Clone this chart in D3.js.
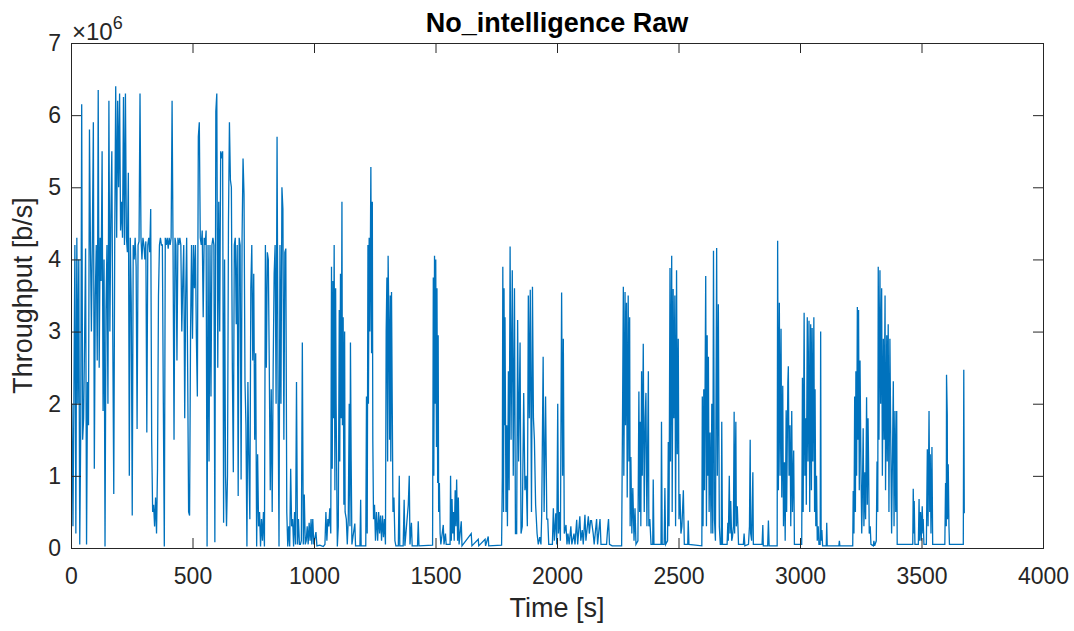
<!DOCTYPE html>
<html>
<head>
<meta charset="utf-8">
<script src="https://cdn.jsdelivr.net/npm/d3@7"></script>
<style>
  body { margin: 0; background: #fff; }
  svg { display: block; }
</style>
</head>
<body>
<div id="chart"></div>
<script>
// ---------------------------------------------------------------------------
// Throughput trace, MATLAB look: boxed axes, inward ticks, x10^6 exponent
// ---------------------------------------------------------------------------

const chartTitle = 'No_intelligence Raw';
const xLabel = 'Time [s]';
const yLabel = 'Throughput [b/s]';
const xTicks = [0, 500, 1000, 1500, 2000, 2500, 3000, 3500, 4000];
const yTicks = [0, 1, 2, 3, 4, 5, 6, 7]; // x 10^6 b/s

// first 988 s, one reading every 4 s, values in 10^6 b/s
const denseStep = 4;
const denseMbps = [
  0.1,2.0,0.3,2.1,4.2,0.2,4.3,2.0,4.0,0.05,
  1.6,6.15,1.5,1.8,2.9,4.15,0.05,2.3,1.7,5.8,
  4.2,3.0,4.3,5.9,1.1,3.5,4.2,2.6,6.35,2.5,
  4.3,3.7,5.5,1.9,4.0,0.02,3.3,4.2,2.0,6.2,
  3.0,4.6,5.5,2.9,0.75,4.3,6.4,4.3,6.2,5.0,
  6.3,4.4,4.8,4.3,6.25,4.2,6.3,4.3,4.1,5.2,
  1.0,4.3,3.4,0.45,4.2,4.0,4.3,3.9,1.65,4.2,
  4.25,6.3,4.3,4.0,4.3,4.2,4.0,4.25,1.6,4.2,
  4.3,4.1,4.7,1.5,0.5,0.6,0.3,0.7,0.2,1.1,
  3.5,4.2,4.3,4.2,4.2,2.0,0.02,4.3,4.2,4.3,
  4.15,4.3,4.2,4.3,6.2,4.1,1.5,4.3,4.2,2.6,
  4.3,4.2,4.3,4.2,3.0,3.7,4.2,1.8,3.5,4.3,
  2.5,0.5,0.45,3.0,4.2,2.9,4.2,3.6,4.2,2.9,
  2.1,5.7,5.9,4.3,4.2,4.4,3.2,4.3,4.2,4.4,
  0.02,4.2,1.2,4.2,2.1,4.2,4.3,4.2,0.08,6.05,
  6.3,2.5,4.8,3.0,5.5,5.4,5.5,0.35,4.0,1.0,
  0.3,1.0,4.5,5.9,5.1,5.0,2.5,1.05,4.2,4.3,
  3.1,4.2,0.72,4.3,4.2,0.95,4.3,5.4,4.9,2.3,
  1.7,0.02,2.3,1.2,0.4,3.6,4.2,2.6,3.8,1.5,
  2.7,0.02,1.3,0.3,0.5,0.02,0.4,0.1,0.5,0.02,
  4.2,2.5,4.1,4.0,2.5,0.8,2.2,0.5,2.5,3.8,
  4.2,2.0,5.7,2.2,0.02,4.2,2.0,5.0,4.7,1.5,
  4.1,4.15,0.5,0.02,0.3,0.02,1.1,0.3,0.4,0.02,
  0.5,0.05,2.3,0.05,0.4,0.05,0.05,0.1,2.85,0.05,
  0.74,0.05,0.1,0.3,0.05,0.35,0.1,0.4
];

// later bursts, [time s, 10^6 b/s]
const burst1100 = [
  [991,0.05],[995,0.4],[999,0.05],[1008,0.22],[1012,0.03],[1024,0.04],[1038,0.02],[1045,0.05],
  [1049,0.5],[1053,0.1],[1057,0.4],[1061,0.3],[1065,0.55],[1069,0.2],[1072,3.9],[1075,1.1],
  [1078,3.7],[1080,1.8],[1083,4.2],[1086,0.8],[1089,3.6],[1091,2.0],[1096,0.02],[1100,0.3],
  [1104,3.3],[1106,1.2],[1109,3.8],[1112,1.8],[1115,4.8],[1117,1.7],[1120,3.2],[1123,0.6],
  [1126,3.0],[1128,0.5],[1133,0.4],[1137,0.05],[1141,0.4],[1145,2.0],[1148,0.3],[1150,2.85],
  [1153,1.2],[1156,0.05],[1168,0.34],[1171,0.03],[1189,0.03],[1192,0.67],[1194,0.03],[1213,0.03]
];
const burst1250 = [
  [1216,2.1],[1219,0.2],[1222,4.2],[1224,2.0],[1227,4.3],[1230,3.0],[1234,5.28],[1237,2.7],
  [1240,4.8],[1242,1.5],[1245,0.4],[1249,0.6],[1253,0.1],[1257,0.5],[1262,0.1],[1266,0.5],
  [1270,0.2],[1274,0.45],[1278,0.1],[1282,0.45],[1286,0.15],[1290,0.4],[1294,0.05],[1297,3.0],
  [1300,3.75],[1303,1.2],[1305,4.05],[1308,3.2],[1311,1.5],[1314,3.5],[1316,1.2],[1319,3.55],
  [1322,2.0],[1325,0.5],[1329,0.7],[1333,0.1],[1337,0.03],[1347,0.03],[1351,1.0],[1353,0.03],
  [1367,0.03],[1371,0.67],[1374,0.03],[1388,0.6],[1392,1.0],[1395,0.05],[1401,0.35],[1404,0.03],
  [1426,0.03],[1429,0.37],[1432,0.03]
];
const burst1500 = [
  [1488,0.04],[1491,3.75],[1493,1.0],[1496,4.05],[1499,2.0],[1501,4.0],[1504,1.4],[1506,3.6],
  [1509,0.9],[1511,2.95],[1513,0.5],[1516,0.9],[1519,0.2],[1522,0.05],[1532,0.32],[1535,0.05],
  [1541,0.2],[1544,0.05],[1560,0.05],[1562,1.0],[1565,0.1],[1568,0.68],[1571,0.2],[1574,0.5],
  [1577,0.1],[1581,0.8],[1584,0.3],[1587,0.95],[1591,0.1],[1594,0.7],[1597,0.05],[1606,0.37],
  [1609,0.03],[1647,0.2],[1650,0.03],[1676,0.12],[1678,0.03],[1704,0.12],[1706,0.03],[1717,0.16],
  [1719,0.03],[1772,0.04]
];
const burst1850 = [
  [1775,1.0],[1777,3.9],[1780,0.5],[1782,3.6],[1784,1.7],[1786,3.2],[1790,0.5],[1793,1.7],
  [1796,0.3],[1800,2.45],[1803,0.8],[1807,4.18],[1811,1.5],[1816,3.85],[1820,1.0],[1825,3.6],
  [1829,0.2],[1834,0.2],[1838,3.16],[1842,1.2],[1848,2.85],[1852,0.2],[1857,0.3],[1863,2.15],
  [1868,0.8],[1873,1.0],[1878,0.3],[1882,3.5],[1886,1.8],[1890,3.58],[1895,0.5],[1899,3.62],
  [1903,1.8],[1907,1.5],[1912,0.6],[1918,0.2],[1923,0.05],[1929,0.15],[1934,0.05],[1937,0.46],
  [1943,2.65],[1947,0.5],[1953,2.1],[1958,0.4],[1962,0.4],[1966,0.05],[1981,0.05],[1985,0.55],
  [1989,0.1],[1995,0.48],[1999,0.05],[2003,2.0],[2006,0.2],[2010,0.5],[2014,0.1],[2019,3.54],
  [2023,1.0],[2026,2.9],[2030,0.2]
];
const quiet2100 = [
  [2037,0.32],[2041,0.05],[2045,0.2],[2050,0.05],[2057,0.3],[2061,0.05],[2070,0.2],[2074,0.05],
  [2081,0.39],[2085,0.05],[2094,0.44],[2098,0.1],[2104,0.25],[2108,0.05],[2115,0.46],[2119,0.1],
  [2129,0.44],[2133,0.2],[2138,0.38],[2142,0.38],[2149,0.2],[2153,0.05],[2163,0.4],[2167,0.05],
  [2177,0.4],[2181,0.05],[2204,0.05],[2208,0.25],[2212,0.4],[2216,0.05],[2227,0.03],[2266,0.03]
];
const burst2300 = [
  [2270,2.0],[2273,3.62],[2275,1.0],[2280,3.55],[2282,1.7],[2286,3.4],[2289,0.7],[2293,3.5],
  [2296,1.2],[2299,3.2],[2301,0.3],[2304,1.26],[2308,0.2],[2312,0.83],[2317,0.1],[2321,0.55],
  [2325,0.05],[2333,0.1],[2337,2.17],[2340,0.5],[2343,1.75],[2345,0.3],[2348,2.45],[2351,1.0],
  [2355,2.83],[2359,0.5],[2363,1.8],[2366,2.15],[2370,0.3],[2376,2.45],[2378,0.3],[2382,0.4],
  [2387,0.05],[2394,0.05],[2396,0.95],[2399,0.05],[2428,0.05],[2430,1.75],[2433,0.05],[2441,0.05],
  [2444,0.83],[2447,0.05],[2455,0.1],[2458,1.47],[2461,0.3],[2465,3.88],[2467,1.2],[2472,4.05],
  [2474,0.5],[2478,3.59],[2481,1.8],[2485,3.5],[2488,0.3],[2492,3.85],[2495,1.3],[2499,2.9],
  [2502,0.4],[2506,0.75],[2510,0.2],[2514,0.3],[2520,0.8],[2524,0.05],[2538,0.05],[2540,0.38],
  [2543,0.05]
];
const burst2650 = [
  [2596,0.03],[2598,2.1],[2601,0.3],[2604,2.2],[2607,0.8],[2609,2.0],[2612,3.77],[2615,0.3],
  [2618,2.95],[2620,1.0],[2623,2.65],[2626,0.5],[2630,1.6],[2634,0.2],[2637,2.0],[2641,0.2],
  [2644,4.12],[2648,0.4],[2652,0.1],[2657,4.16],[2660,1.0],[2664,3.38],[2668,0.3],[2672,0.05],
  [2676,0.05],[2678,1.75],[2681,0.05],[2700,0.05],[2703,0.35],[2705,0.1],[2709,1.0],[2712,0.2],
  [2715,0.65],[2719,0.1],[2722,0.15],[2726,0.3],[2729,1.89],[2731,0.2],[2736,1.75],[2738,0.3],
  [2742,0.58],[2747,0.05],[2767,0.05],[2770,0.2],[2773,0.03],[2788,0.05],[2792,0.3],[2795,1.5],
  [2797,0.2],[2801,0.1],[2806,1.05],[2808,0.05],[2844,0.05],[2847,0.32],[2849,0.03],[2867,0.03],
  [2870,0.38],[2873,0.03]
];
const burst2950 = [
  [2906,0.03],[2908,4.26],[2911,0.8],[2915,3.4],[2918,1.0],[2922,3.04],[2925,0.7],[2929,2.25],
  [2932,0.3],[2936,1.19],[2939,0.1],[2943,1.91],[2945,0.5],[2950,2.3],[2952,2.52],[2955,1.0],
  [2959,1.7],[2962,0.3],[2966,1.9],[2969,0.5],[2974,1.35],[2977,0.05],[3007,0.05],[3010,2.36],
  [3013,0.5],[3017,3.26],[3020,1.0],[3024,1.8],[3026,0.6],[3030,3.2],[3033,1.2],[3037,3.15],
  [3040,0.5],[3044,3.1],[3047,0.8],[3050,3.05],[3053,1.2],[3057,3.2],[3060,0.5],[3062,2.2],
  [3065,0.3],[3068,1.0],[3071,0.1],[3075,0.3],[3078,0.05],[3083,0.05],[3085,3.0],[3087,0.1],
  [3090,0.25],[3093,0.03],[3108,0.03],[3110,0.35],[3112,0.03]
];
const burst3300 = [
  [3160,0.03],[3162,0.1],[3164,0.03],[3217,0.03],[3219,0.79],[3222,0.2],[3225,2.1],[3228,0.5],
  [3230,2.45],[3233,1.0],[3236,3.34],[3239,1.5],[3241,3.3],[3244,0.8],[3247,2.6],[3251,1.06],
  [3254,0.2],[3256,0.55],[3260,1.66],[3263,0.3],[3267,1.05],[3270,0.4],[3274,2.09],[3277,0.6],
  [3280,1.8],[3282,1.25],[3285,0.2],[3289,0.3],[3292,0.05],[3302,0.03],[3304,0.1],[3307,0.03],
  [3314,0.1],[3317,1.2],[3320,0.5],[3322,3.9],[3325,1.5],[3329,3.85],[3332,2.0],[3336,3.6],
  [3339,1.0],[3343,2.9],[3346,1.5],[3350,3.5],[3352,0.8],[3357,2.95],[3359,1.2],[3363,3.1],
  [3366,0.5],[3370,2.9],[3374,1.3],[3377,0.2],[3384,2.31],[3387,0.3],[3391,1.9],[3394,0.5],
  [3398,1.9],[3400,0.05],[3464,0.05],[3466,0.82],[3469,0.2],[3470,0.65],[3473,0.05],[3487,0.05],
  [3490,0.68],[3492,0.1],[3496,0.5],[3499,0.1],[3503,0.58],[3506,0.2],[3507,0.4],[3510,0.05],
  [3520,0.05],[3524,1.37],[3527,0.3],[3531,1.9],[3534,0.5],[3536,1.3],[3539,0.2],[3543,1.4],
  [3546,0.05]
];
const burst3600 = [
  [3596,0.05],[3599,0.9],[3602,0.3],[3603,2.4],[3606,1.85],[3607,0.4],[3610,1.16],[3613,0.3],
  [3615,0.05],[3672,0.05],[3674,2.47],[3676,0.48]
];

const width = 1074;
const height = 631;
const margin = { top: 43, right: 31, bottom: 83, left: 71 };
const innerW = width - margin.left - margin.right;
const innerH = height - margin.top - margin.bottom;

const samples = denseMbps
  .map((v, i) => [i * denseStep, v])
  .concat(burst1100, burst1250, burst1500, burst1850, quiet2100,
          burst2300, burst2650, burst2950, burst3300, burst3600)
  .map(([t, v]) => ({ t, bps: v * 1e6 }));

const x = d3.scaleLinear().domain([0, 4000]).range([0, innerW]);
const y = d3.scaleLinear().domain([0, 7e6]).range([innerH, 0]);

const svg = d3.select('#chart')
  .append('svg')
  .attr('width', width)
  .attr('height', height)
  .style('font-family', '"Liberation Sans", Arial, Helvetica, sans-serif');

const g = svg.append('g').attr('transform', `translate(${margin.left},${margin.top})`);

g.append('clipPath').attr('id', 'plot-clip')
  .append('rect').attr('width', innerW).attr('height', innerH);

const line = d3.line().x((d) => x(d.t)).y((d) => y(d.bps));

g.append('path')
  .datum(samples)
  .attr('clip-path', 'url(#plot-clip)')
  .attr('fill', 'none')
  .attr('stroke', '#0072BD')
  .attr('stroke-width', 1.3)
  .attr('stroke-linejoin', 'miter')
  .attr('d', line);

// axes, ticks point inward on all four sides
const axisColor = '#262626';
const tickLen = 10;

const styleAxis = (sel) => {
  sel.select('.domain').remove();
  sel.selectAll('.tick line').attr('stroke', axisColor).attr('stroke-width', 1);
  sel.selectAll('.tick text')
    .attr('fill', axisColor)
    .attr('font-family', null)
    .style('font-size', '23px');
};

g.append('g')
  .attr('transform', `translate(0,${innerH})`)
  .call(d3.axisBottom(x).tickValues(xTicks).tickSize(-tickLen).tickPadding(20).tickFormat(d3.format('d')))
  .call(styleAxis);

g.append('g')
  .call(d3.axisTop(x).tickValues(xTicks).tickSize(-tickLen).tickFormat(''))
  .call(styleAxis);

g.append('g')
  .call(d3.axisLeft(y).tickValues(yTicks.map((v) => v * 1e6)).tickSize(-tickLen).tickPadding(10)
    .tickFormat((d) => d / 1e6))
  .call(styleAxis);

g.append('g')
  .attr('transform', `translate(${innerW},0)`)
  .call(d3.axisRight(y).tickValues(yTicks.map((v) => v * 1e6)).tickSize(-tickLen).tickFormat(''))
  .call(styleAxis);

// box
g.append('rect')
  .attr('x', 0.5)
  .attr('y', 0.5)
  .attr('width', innerW)
  .attr('height', innerH)
  .attr('fill', 'none')
  .attr('stroke', axisColor)
  .attr('stroke-width', 1);

// exponent label
const expo = svg.append('text')
  .attr('x', margin.left + 1)
  .attr('y', 40)
  .attr('fill', axisColor)
  .style('font-size', '24px');
expo.append('tspan').text('\u00d710');
expo.append('tspan').attr('dy', -11).style('font-size', '18px').text('6');

// title and labels
svg.append('text')
  .attr('x', margin.left + innerW / 2)
  .attr('y', 32)
  .attr('text-anchor', 'middle')
  .style('font-size', '27px')
  .style('font-weight', 'bold')
  .attr('fill', '#000')
  .text(chartTitle);

svg.append('text')
  .attr('x', margin.left + innerW / 2)
  .attr('y', 617)
  .attr('text-anchor', 'middle')
  .style('font-size', '27px')
  .attr('fill', axisColor)
  .text(xLabel);

svg.append('text')
  .attr('transform', `translate(32,${margin.top + innerH / 2}) rotate(-90)`)
  .attr('text-anchor', 'middle')
  .style('font-size', '27px')
  .attr('fill', axisColor)
  .text(yLabel);
</script>
</body>
</html>
